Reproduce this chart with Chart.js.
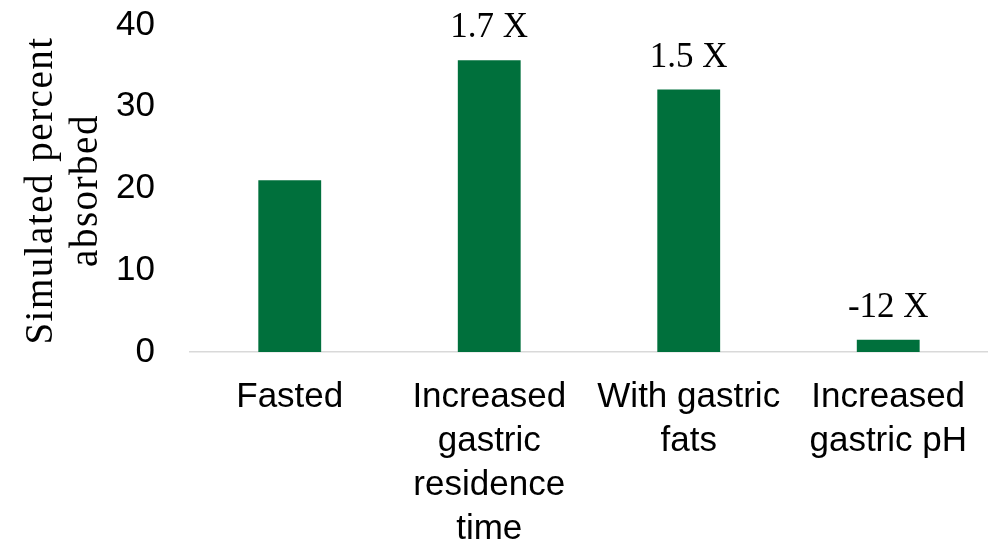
<!DOCTYPE html>
<html>
<head>
<meta charset="utf-8">
<script src="https://cdn.jsdelivr.net/npm/chart.js"></script>
<style>
  html, body { margin: 0; padding: 0; background: #fff; }
  #wrap { width: 990px; height: 541px; }
</style>
</head>
<body>
<div id="wrap"><canvas id="absorbChart"></canvas></div>
<script>
const categories = [
    'Fasted',
    ['Increased', 'gastric', 'residence', 'time'],
    ['With gastric', 'fats'],
    ['Increased', 'gastric pH']
];
const percentAbsorbed = [21.0, 35.7, 32.1, 1.5];
const foldChange = ['', '1.7 X', '1.5 X', '-12 X'];
const yTicks = [0, 10, 20, 30, 40];
const axisTitle = ['Simulated percent', 'absorbed'];

const SANS = "'Liberation Sans', Arial, sans-serif";
const SERIF = "'Liberation Serif', 'Times New Roman', serif";

// fold-change text sitting above each bar
const foldLabels = {
    id: 'foldLabels',
    afterDatasetsDraw: function (chart) {
        const ctx = chart.ctx;
        const bars = chart.getDatasetMeta(0).data;
        ctx.save();
        ctx.font = '35px ' + SERIF;
        ctx.fillStyle = '#000';
        ctx.textAlign = 'center';
        ctx.textBaseline = 'alphabetic';
        bars.forEach(function (bar, i) {
            if (foldChange[i]) ctx.fillText(foldChange[i], bar.x, bar.y - 23);
        });
        ctx.restore();
    }
};

// two-line rotated y title with wide letter spacing
const yTitle = {
    id: 'yTitle',
    afterDraw: function (chart) {
        const ctx = chart.ctx;
        const area = chart.chartArea;
        const cy = (area.top + area.bottom) / 2 + 2;
        const baselines = [52, 97];
        ctx.save();
        ctx.font = '39px ' + SERIF;
        ctx.letterSpacing = '1.5px';
        ctx.fillStyle = '#000';
        ctx.textAlign = 'center';
        ctx.textBaseline = 'alphabetic';
        axisTitle.forEach(function (line, i) {
            ctx.save();
            ctx.translate(baselines[i], cy);
            ctx.rotate(-Math.PI / 2);
            ctx.fillText(line, 0, 0);
            ctx.restore();
        });
        ctx.restore();
    }
};

new Chart(document.getElementById('absorbChart'), {
    type: 'bar',
    data: {
        labels: categories,
        datasets: [{
            data: percentAbsorbed,
            backgroundColor: '#00703c',
            borderWidth: 0,
            barPercentage: 0.315,
            categoryPercentage: 1.0
        }]
    },
    options: {
        responsive: true,
        maintainAspectRatio: false,
        animation: false,
        layout: { padding: { top: 25, right: 0, bottom: 0, left: 0 } },
        plugins: {
            legend: { display: false },
            tooltip: { enabled: false }
        },
        scales: {
            x: {
                grid: { display: false, drawTicks: false },
                border: { display: true, color: '#d9d9d9', width: 1.5 },
                ticks: {
                    color: '#000',
                    font: { family: SANS, size: 35, lineHeight: 1.26 },
                    padding: 23,
                    maxRotation: 0,
                    autoSkip: false
                },
                afterFit: function (scale) { scale.height = 189; }
            },
            y: {
                min: 0,
                max: 40,
                grid: { display: false, drawTicks: false },
                border: { display: false },
                ticks: {
                    color: '#000',
                    font: { family: SANS, size: 35 },
                    padding: 35
                },
                afterBuildTicks: function (scale) {
                    scale.ticks = yTicks.map(function (v) { return { value: v }; });
                },
                afterFit: function (scale) {
                    scale.width = 190;
                    // the top tick label may overhang the plot; keep the plot at the layout padding
                    scale.paddingTop = 0;
                    scale.paddingBottom = 0;
                }
            }
        }
    },
    plugins: [foldLabels, yTitle]
});
</script>
</body>
</html>
